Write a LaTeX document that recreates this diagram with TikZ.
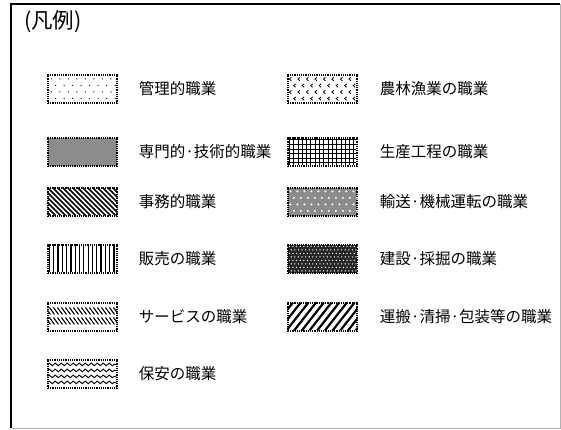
\documentclass[tikz,border=0pt]{standalone}
\usepackage{fontspec}
\setmainfont{Noto Sans CJK JP}
\usetikzlibrary{positioning,decorations.pathmorphing}
\tikzset{
	swatch/.style={draw,densely dotted,line width=1.2pt,minimum width=69pt,minimum height=28pt,inner sep=0pt},
	jobtext/.style={font=\fontsize{15.5}{16}\selectfont,inner sep=0pt},
}
\newcommand{\inbox}[1]{\clip (#1.north west) rectangle (#1.south east);
	\tikzset{shift={(#1.north west)}}}
\begin{document}
\begin{tikzpicture}[x=1pt,y=-1pt]
	\useasboundingbox (0,0) rectangle (561,430);
	\draw[line width=1.3pt] (11,428)--(11,4)--(560,4);
	\draw[gray!60,line width=0.8pt] (560,4)--(560,428)--(11,428);
	\node[font=\fontsize{21.5}{22}\selectfont,anchor=west,inner sep=0pt] (hanrei) at (24,22) {(凡例)};
	\node[swatch] (kanri) at (82.5,89) {};
	\node[swatch,fill=black!45] (senmon) at (82.5,152) {};
	\node[swatch] (jimu) at (82.5,202) {};
	\node[swatch] (hanbai) at (82.5,259) {};
	\node[swatch] (service) at (82.5,317) {};
	\node[swatch] (hoan) at (82.5,374) {};
	\node[swatch] (nourin) at (322.5,89) {};
	\node[swatch] (seisan) at (322.5,152) {};
	\node[swatch,fill=black!45] (yuso) at (322.5,202) {};
	\node[swatch,fill=black!85] (kensetsu) at (322.5,259) {};
	\node[swatch] (unpan) at (322.5,317) {};
	\begin{scope}
		\inbox{kanri}
		\foreach \j in {0,...,3}
			\foreach \i in {0,...,7}
				\fill ({4+8.5*\i+4.25*mod(\j,2)},{4.5+6.5*\j}) circle (0.7);
	\end{scope}
	\begin{scope}
		\inbox{jimu}
		\foreach \i in {-30,-25,...,70}
			\draw[line width=1.6pt] (\i,0)--++(28,28);
	\end{scope}
	\begin{scope}
		\inbox{hanbai}
		\foreach \i in {0,...,15}
			\draw[line width=1.2pt] ({2+4.3*\i},0)--++(0,28);
	\end{scope}
	\begin{scope}
		\inbox{service}
		\foreach \j in {5,15}
			\foreach \i in {-2,2,...,70}
				\draw[line width=1.1pt] (\i,\j)--++(5,7);
	\end{scope}
	\begin{scope}
		\inbox{hoan}
		\foreach \j in {0,...,3}
			\draw[line width=0.9pt,decorate,decoration={snake,amplitude=1.3pt,segment length=6pt}] (0,{5+6*\j})--(69,{5+6*\j});
	\end{scope}
	\begin{scope}
		\inbox{nourin}
		\foreach \j in {0,...,3}
			\foreach \i in {0,...,7}
				\draw[line width=0.8pt] ({4+8.5*\i+4.25*mod(\j,2)},{3+6.5*\j})--++(-2,1.7)--++(2,1.7);
	\end{scope}
	\begin{scope}
		\inbox{seisan}
		\foreach \i in {0,...,15}
			\draw[line width=1pt] ({2+4.3*\i},0)--++(0,28);
		\foreach \j in {0,...,5}
			\draw[line width=1pt] (0,{2.5+4.6*\j})--++(69,0);
	\end{scope}
	\begin{scope}
		\inbox{yuso}
		\foreach \j in {0,...,3}
			\foreach \i in {0,...,9}
				\fill[white] ({3+7*\i+3.5*mod(\j,2)},{4+6.5*\j}) circle (1.1);
	\end{scope}
	\begin{scope}
		\inbox{kensetsu}
		\foreach \j in {0,...,7}
			\foreach \i in {0,...,19}
				\fill[white] ({2+3.6*\i+1.8*mod(\j,2)},{2+3.5*\j}) circle (0.7);
	\end{scope}
	\begin{scope}
		\inbox{unpan}
		\foreach \i in {-24,-16.3,...,72}
			\draw[line width=2.2pt] (\i,28)--++(22,-28);
	\end{scope}
	\node[jobtext,right=21pt of kanri] (kanri-t) {管理的職業};
	\node[jobtext,right=21pt of senmon] (senmon-t) {専門的·技術的職業};
	\node[jobtext,right=21pt of jimu] (jimu-t) {事務的職業};
	\node[jobtext,right=21pt of hanbai] (hanbai-t) {販売の職業};
	\node[jobtext,right=21pt of service] (service-t) {サービスの職業};
	\node[jobtext,right=21pt of hoan] (hoan-t) {保安の職業};
	\node[jobtext,right=22pt of nourin] (nourin-t) {農林漁業の職業};
	\node[jobtext,right=22pt of seisan] (seisan-t) {生産工程の職業};
	\node[jobtext,right=22pt of yuso] (yuso-t) {輸送·機械運転の職業};
	\node[jobtext,right=22pt of kensetsu] (kensetsu-t) {建設·採掘の職業};
	\node[jobtext,right=22pt of unpan] (unpan-t) {運搬·清掃·包装等の職業};
\end{tikzpicture}
\end{document}
